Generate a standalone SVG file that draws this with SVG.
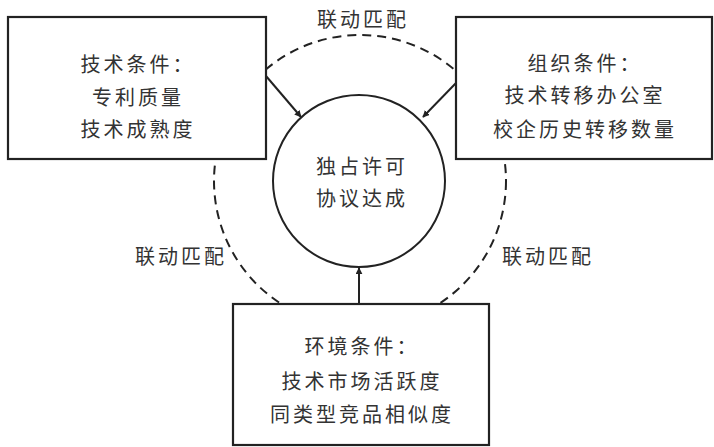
<svg xmlns="http://www.w3.org/2000/svg" width="714" height="447" viewBox="0 0 714 447">
<defs>
<style>
.box{fill:#fff;stroke:#222;stroke-width:2.2}
.t{font-family:"Noto Sans CJK SC","Noto Sans",sans-serif;font-size:20px;fill:#333;text-anchor:middle;letter-spacing:3px;dominant-baseline:central}
.dash{fill:none;stroke:#222;stroke-width:2;stroke-dasharray:9 6}
.arr{stroke:#222;stroke-width:2;fill:none;marker-end:url(#ah)}
</style>
<marker id="ah" viewBox="0 0 10 10" refX="9" refY="5" markerWidth="7" markerHeight="7" markerUnits="userSpaceOnUse" orient="auto"><path d="M0,0 L10,5 L0,10 z" fill="#222"/></marker>
</defs>
<rect width="714" height="447" fill="#fff"/>
<g id="connectors">
<circle class="dash" cx="360" cy="181" r="146"/>
<line class="arr" x1="266" y1="76" x2="301" y2="117"/>
<line class="arr" x1="456" y1="83" x2="423" y2="117"/>
<line class="arr" x1="359" y1="304" x2="359" y2="268"/>
</g>
<g id="labels">
<text class="t" x="363" y="18">联动匹配</text>
<text class="t" x="181" y="255">联动匹配</text>
<text class="t" x="548" y="255">联动匹配</text>
</g>
<g id="node-tech">
<rect class="box" x="8" y="17" width="258" height="142"/>
<text class="t" x="138" y="63">技术条件：</text>
<text class="t" x="138" y="96">专利质量</text>
<text class="t" x="138" y="128">技术成熟度</text>
</g>
<g id="node-org">
<rect class="box" x="456" y="17" width="256" height="142"/>
<text class="t" x="585" y="62">组织条件：</text>
<text class="t" x="585" y="94">技术转移办公室</text>
<text class="t" x="585" y="128">校企历史转移数量</text>
</g>
<g id="node-env">
<rect class="box" x="233" y="304" width="256" height="141"/>
<text class="t" x="362" y="345">环境条件：</text>
<text class="t" x="362" y="380">技术市场活跃度</text>
<text class="t" x="362" y="413">同类型竞品相似度</text>
</g>
<g id="node-center">
<circle cx="359" cy="181" r="86" fill="#fff" stroke="#222" stroke-width="2"/>
<text class="t" x="362" y="165">独占许可</text>
<text class="t" x="362" y="197">协议达成</text>
</g>
</svg>
